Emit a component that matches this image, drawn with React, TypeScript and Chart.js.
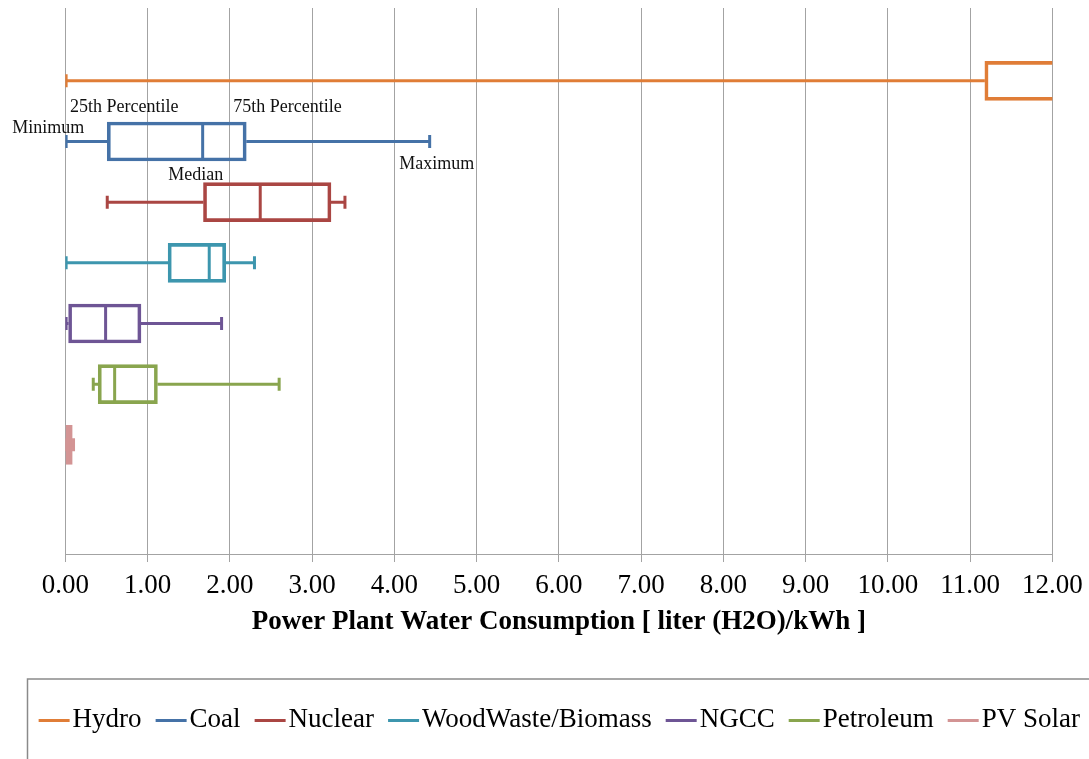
import React, { useEffect, useRef } from 'react';
import { Chart, registerables } from 'chart.js';

Chart.register(...registerables);

// Series, in plotting order from top to bottom
const SERIES = ['Hydro', 'Coal', 'Nuclear', 'WoodWaste/Biomass', 'NGCC', 'Petroleum', 'PV Solar'];
const COLORS = ['#E07D37', '#4572A7', '#AA4643', '#3D96AE', '#6E5595', '#89A54E', '#D39494'];
const ROW = [1, 2, 3, 4, 5, 6, 7];

// Five-number summaries, liter (H2O)/kWh
const MINIMUM = [0.01, 0.01, 0.51, 0.01, 0.01, 0.34, 0.0];
const Q1 = [11.18, 0.51, 1.68, 1.25, 0.04, 0.4, 0.0];
const MEDIAN = [13.0, 1.67, 2.37, 1.75, 0.49, 0.6, 0.04];
const Q3 = [14.5, 2.2, 3.23, 1.95, 0.92, 1.12, 0.085];
const MAXIMUM = [16.5, 4.43, 3.4, 2.3, 1.9, 2.6, 0.1];

const X_MIN = 0;
const X_MAX = 12;
const X_STEP = 1;
const AXIS_TITLE = 'Power Plant Water Consumption [ liter (H2O)/kWh ]';

// Explanatory labels around the Coal box (data coordinates, left/baseline anchored)
const NOTE_TEXT = ['25th Percentile', '75th Percentile', 'Minimum', 'Maximum', 'Median'];
const NOTE_X = [0.057, 2.043, -0.644, 4.061, 1.252];
const NOTE_Y = [1.508, 1.508, 1.859, 2.452, 2.639];

const SERIF = "'Liberation Serif', 'Times New Roman', serif";
const GRID = '#A3A3A3';

const notesPlugin = {
  id: 'boxNotes',
  afterDatasetsDraw(chart: any) {
    const { ctx, scales } = chart;
    ctx.save();
    ctx.font = `18px ${SERIF}`;
    ctx.fillStyle = '#111';
    ctx.textAlign = 'left';
    ctx.textBaseline = 'alphabetic';
    NOTE_TEXT.forEach((t, i) => {
      ctx.fillText(t, scales.x.getPixelForValue(NOTE_X[i]), scales.y.getPixelForValue(NOTE_Y[i]));
    });
    ctx.restore();
  },
};

// Frame around the legend row
const legendFrame = {
  id: 'legendFrame',
  afterDraw(chart: any) {
    const l = chart.legend;
    if (!l) return;
    const { ctx } = chart;
    ctx.save();
    ctx.strokeStyle = '#8A8A8A';
    ctx.lineWidth = 1.5;
    ctx.strokeRect(l.left + 8.5, l.top + 6, l.right - l.left, 200);
    ctx.restore();
  },
};

function makeSwatch(color: string) {
  const c = document.createElement('canvas');
  c.width = 42;
  c.height = 3;
  const g = c.getContext('2d')!;
  g.fillStyle = color;
  g.fillRect(1, 0, 31, 3);
  return c;
}

export default function App() {
  const ref = useRef<HTMLCanvasElement>(null);

  useEffect(() => {
    if (!ref.current) return;
    Chart.defaults.font.family = SERIF;
    Chart.defaults.color = '#000';

    const swatches = COLORS.map(makeSwatch);

    const boxes = {
      type: 'bar',
      label: 'box',
      data: ROW.map((r, i) => ({ y: r, x: [Q1[i], Q3[i]] })),
      backgroundColor: 'rgba(0,0,0,0)',
      borderColor: COLORS,
      borderWidth: 3,
      borderSkipped: false,
      barThickness: 39,
      clip: 0,
    };

    const whiskers = SERIES.map((name, i) => ({
      type: 'line',
      label: name,
      data: [
        { x: MINIMUM[i], y: ROW[i] },
        { x: Q1[i], y: ROW[i] },
        { x: null, y: ROW[i] },
        { x: Q3[i], y: ROW[i] },
        { x: MAXIMUM[i], y: ROW[i] },
      ],
      borderColor: COLORS[i],
      borderWidth: 3,
      pointRadius: 0,
      spanGaps: false,
      fill: false,
      clip: 0,
    }));

    const caps = {
      type: 'scatter',
      label: 'caps',
      data: ROW.flatMap((r, i) => [
        { x: MINIMUM[i], y: r },
        { x: MAXIMUM[i], y: r },
      ]),
      pointStyle: 'line',
      rotation: 90,
      pointRadius: 6.5,
      pointBorderWidth: 3,
      pointBorderColor: COLORS.flatMap((c) => [c, c]),
      showLine: false,
      clip: 0,
    };

    const medians = {
      type: 'scatter',
      label: 'median',
      data: ROW.map((r, i) => ({ x: MEDIAN[i], y: r })),
      pointStyle: 'line',
      rotation: 90,
      pointRadius: 18,
      pointBorderWidth: 3,
      pointBorderColor: COLORS,
      showLine: false,
      clip: 0,
    };

    const chart = new Chart(ref.current, {
      type: 'bar',
      data: { datasets: [boxes, ...whiskers, caps, medians] as any },
      options: {
        indexAxis: 'y',
        animation: false,
        responsive: false,
        devicePixelRatio: 1,
        events: [],
        layout: { autoPadding: false, padding: { left: 19, right: -30, top: 8, bottom: 15.5 } },
        scales: {
          x: {
            type: 'linear',
            min: X_MIN,
            max: X_MAX,
            offset: false,
            ticks: {
              stepSize: X_STEP,
              autoSkip: false,
              maxRotation: 0,
              padding: 0,
              color: '#000',
              font: { size: 27, lineHeight: 1.74 },
              callback: (v: any) => Number(v).toFixed(2),
            },
            grid: { color: GRID, lineWidth: 1, tickLength: 8, drawTicks: true, offset: false },
            border: { display: true, color: GRID, width: 1 },
            title: {
              display: true,
              text: AXIS_TITLE,
              color: '#000',
              font: { size: 27, weight: 'bold', lineHeight: 1 },
              padding: { top: 0, bottom: 37 },
            },
          },
          y: {
            type: 'linear',
            min: -0.2,
            max: 8.8,
            reverse: true,
            offset: false,
            ticks: { display: false },
            grid: { display: false, offset: false },
            border: { display: false },
            afterFit: (s: any) => {
              s.width = 46.3;
            },
          },
          y2: {
            type: 'linear',
            position: 'right',
            offset: false,
            ticks: { display: false },
            grid: { display: false, offset: false },
            border: { display: false },
            afterFit: (s: any) => {
              s.width = 66.7;
            },
          },
        },
        plugins: {
          tooltip: { enabled: false },
          legend: {
            display: true,
            position: 'bottom',
            onClick: () => {},
            labels: {
              usePointStyle: true,
              boxWidth: 1,
              padding: 33.5,
              color: '#000',
              font: { size: 27 },
              generateLabels: () =>
                SERIES.map((name, i) => ({
                  text: name,
                  fillStyle: COLORS[i],
                  strokeStyle: COLORS[i],
                  lineWidth: 0,
                  pointStyle: swatches[i],
                  hidden: false,
                  datasetIndex: i + 1,
                  fontColor: '#000',
                })),
            },
          },
        },
      } as any,
      plugins: [notesPlugin, legendFrame],
    });

    return () => chart.destroy();
  }, []);

  return (
    <div style={{ position: 'fixed', left: 0, top: 0, width: 1089, height: 759, background: '#fff' }}>
      <canvas ref={ref} width={1089} height={759} style={{ display: 'block' }} />
    </div>
  );
}
